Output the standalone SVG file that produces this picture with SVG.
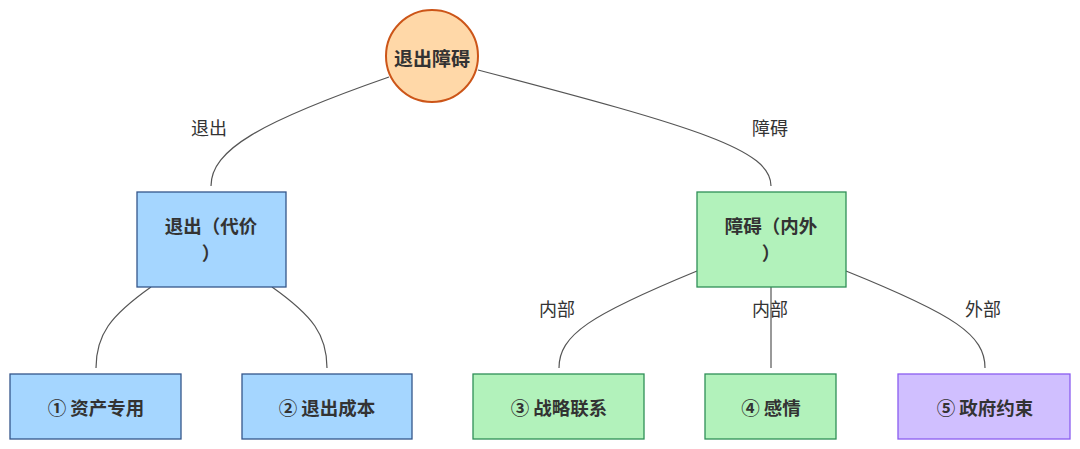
<svg xmlns="http://www.w3.org/2000/svg" width="1080" height="449" viewBox="0 0 1080 449">
<style>
.lbl{font-family:"Noto Sans CJK SC","Liberation Sans",sans-serif;font-size:18px;fill:#333;text-anchor:middle;dominant-baseline:central}
.nt{font-family:"Noto Sans CJK SC","Liberation Sans",sans-serif;font-size:18.5px;font-weight:bold;fill:#333;text-anchor:middle;dominant-baseline:central}
.edge{fill:none;stroke:#555;stroke-width:1.2}
.blue{fill:#a5d6ff;stroke:#34568b;stroke-width:1.3}
.green{fill:#b2f2bb;stroke:#2f8f57;stroke-width:1.3}
.purple{fill:#d0bfff;stroke:#8a5cf0;stroke-width:1.3}
</style>
<rect width="1080" height="449" fill="#fff"/>
<g id="connectors">
<path class="edge" d="M389,77 C260,122 211,150 211,186"/>
<path class="edge" d="M478,70 C700,128 771,150 771,186"/>
<path class="edge" d="M151,287 C110,316 96,335 96,368"/>
<path class="edge" d="M272,287 C313,316 327,335 327,368"/>
<path class="edge" d="M697,271 C590,315 559,335 559,368"/>
<path class="edge" d="M771,287 L771,368"/>
<path class="edge" d="M846,271 C955,315 985,335 985,368"/>
<text class="lbl" x="209" y="127">退出</text>
<text class="lbl" x="770" y="127">障碍</text>
<text class="lbl" x="557" y="308">内部</text>
<text class="lbl" x="770" y="308">内部</text>
<text class="lbl" x="983" y="308">外部</text>
</g>
<g id="root">
<circle cx="432" cy="56" r="46" fill="#ffd8a8" stroke="#cc5518" stroke-width="2"/>
<text class="nt" x="432" y="57" style="font-size:19px">退出障碍</text>
</g>
<g id="exit">
<rect class="blue" x="137" y="192" width="149" height="95"/>
<text class="nt"><tspan x="211" y="225">退出（代价</tspan><tspan x="211" y="252">）</tspan></text>
</g>
<g id="barrier">
<rect class="green" x="697" y="192" width="149" height="95"/>
<text class="nt"><tspan x="771" y="225">障碍（内外</tspan><tspan x="771" y="252">）</tspan></text>
</g>
<g id="n1">
<rect class="blue" x="10" y="374" width="171" height="65"/>
<text class="nt" x="96" y="407">① 资产专用</text>
</g>
<g id="n2">
<rect class="blue" x="242" y="374" width="170" height="65"/>
<text class="nt" x="327" y="407">② 退出成本</text>
</g>
<g id="n3">
<rect class="green" x="473" y="374" width="171" height="65"/>
<text class="nt" x="559" y="407">③ 战略联系</text>
</g>
<g id="n4">
<rect class="green" x="705" y="374" width="131" height="65"/>
<text class="nt" x="771" y="407">④ 感情</text>
</g>
<g id="n5">
<rect class="purple" x="898" y="374" width="172" height="65"/>
<text class="nt" x="985" y="407">⑤ 政府约束</text>
</g>
</svg>
